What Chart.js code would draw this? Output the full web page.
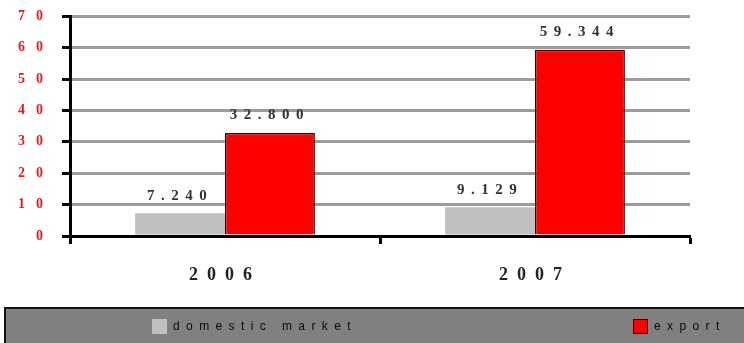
<!DOCTYPE html>
<html>
<head>
<meta charset="utf-8">
<script src="https://cdn.jsdelivr.net/npm/chart.js@4"></script>
<style>
  html, body { margin: 0; padding: 0; background: #ffffff; }
  #chartBox { width: 744px; height: 343px; position: relative; }
</style>
</head>
<body>
<div id="chartBox"><canvas id="salesChart"></canvas></div>
<script>
// Sales by market, per year
const years = ['2006', '2007'];
const domesticMarket = [7.24, 9.129];
const exportSales = [32.8, 59.344];
const seriesNames = ['domestic market', 'export'];

const SERIF = "'Liberation Serif', 'Times New Roman', serif";
const SANS = "'Liberation Sans', Arial, sans-serif";

// Wrap each scale's label drawing so its text gets its own letter spacing
const spacedTicks = {
    id: 'spacedTicks',
    afterUpdate(chart, args, opts) {
        Object.values(chart.scales).forEach(scale => {
            if (scale._spaced) return;
            const original = scale.drawLabels.bind(scale);
            scale.drawLabels = function (area) {
                const ctx = this.ctx;
                ctx.save();
                ctx.letterSpacing = opts[this.id] || '0px';
                original(area);
                ctx.restore();
            };
            scale._spaced = true;
        });
    }
};

// Numbers printed above every bar
const barValues = {
    id: 'barValues',
    afterDatasetsDraw(chart, args, opts) {
        const ctx = chart.ctx;
        ctx.save();
        ctx.font = opts.font;
        ctx.fillStyle = opts.color;
        ctx.letterSpacing = opts.spacing;
        ctx.textAlign = 'center';
        ctx.textBaseline = 'bottom';
        chart.data.datasets.forEach((ds, di) => {
            chart.getDatasetMeta(di).data.forEach((bar, i) => {
                ctx.fillText(ds.data[i].toFixed(3), bar.x, bar.y - opts.offset);
            });
        });
        ctx.restore();
    }
};

// Grey legend strip along the bottom
const stripLegend = {
    id: 'stripLegend',
    afterDraw(chart, args, opts) {
        const ctx = chart.ctx;
        const w = chart.width, h = chart.height;
        ctx.save();
        ctx.fillStyle = opts.background;
        ctx.fillRect(opts.left, opts.top, w - opts.left, h - opts.top);
        ctx.strokeStyle = '#111111';
        ctx.lineWidth = 2;
        ctx.beginPath();
        ctx.moveTo(opts.left, h);
        ctx.lineTo(opts.left, opts.top);
        ctx.lineTo(w, opts.top);
        ctx.stroke();

        ctx.font = opts.font;
        ctx.letterSpacing = opts.spacing;
        ctx.textBaseline = 'middle';
        ctx.textAlign = 'left';
        const cy = opts.top + (h - opts.top) / 2 + 1;
        chart.data.datasets.forEach((ds, i) => {
            const x = opts.itemX[i];
            const s = opts.boxSize;
            ctx.fillStyle = ds.backgroundColor;
            ctx.fillRect(x, cy - s / 2, s, s);
            if (ds.borderWidth) {
                ctx.strokeStyle = ds.borderColor;
                ctx.lineWidth = 1;
                ctx.strokeRect(x + 0.5, cy - s / 2 + 0.5, s - 1, s - 1);
            }
            ctx.fillStyle = opts.color;
            ctx.fillText(ds.label, x + s + opts.gap, cy);
        });
        ctx.restore();
    }
};

const ctx = document.getElementById('salesChart').getContext('2d');
new Chart(ctx, {
    type: 'bar',
    data: {
        labels: years,
        datasets: [{
            label: seriesNames[0],
            data: domesticMarket,
            backgroundColor: '#c0c0c0',
            borderWidth: 0
        }, {
            label: seriesNames[1],
            data: exportSales,
            backgroundColor: '#ff0000',
            borderColor: '#3a0000',
            borderWidth: 1.5
        }]
    },
    options: {
        responsive: true,
        maintainAspectRatio: false,
        animation: false,
        layout: { padding: { left: 0, right: 54, top: 16, bottom: 0 } },
        datasets: {
            bar: { categoryPercentage: 0.58, barPercentage: 1.0 }
        },
        scales: {
            x: {
                grid: {
                    offset: true,
                    drawOnChartArea: false,
                    tickLength: 8,
                    tickColor: '#000000',
                    tickWidth: 3
                },
                border: { color: '#000000', width: 3, z: 1 },
                ticks: {
                    color: '#222222',
                    padding: 21,
                    font: { family: SERIF, size: 18, weight: 'bold' }
                },
                afterFit(scale) { scale.height = 107; }
            },
            y: {
                min: 0,
                max: 70,
                ticks: {
                    stepSize: 10,
                    color: '#ec1c1c',
                    padding: 8,
                    font: { family: SERIF, size: 14, weight: 'bold' }
                },
                grid: {
                    color: '#9c9c9c',
                    lineWidth: 3,
                    tickLength: 8,
                    tickColor: '#000000',
                    tickWidth: 3
                },
                border: { color: '#000000', width: 3, z: 1 },
                afterFit(scale) { scale.width = 70; }
            }
        },
        plugins: {
            legend: { display: false },
            tooltip: { enabled: false },
            spacedTicks: { x: '9px', y: '11px' },
            barValues: {
                font: 'bold 15px ' + SERIF,
                color: '#333333',
                spacing: '6.5px',
                offset: 10
            },
            stripLegend: {
                left: 5,
                top: 308,
                background: '#808080',
                font: '12px ' + SANS,
                color: '#0a0a0a',
                spacing: '6.4px',
                boxSize: 15,
                gap: 6,
                itemX: [152, 633]
            }
        }
    },
    plugins: [spacedTicks, barValues, stripLegend]
});
</script>
</body>
</html>
